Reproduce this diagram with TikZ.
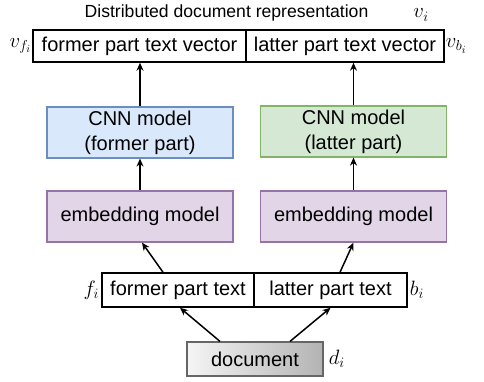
\documentclass[tikz,border=0pt]{standalone}
\usepackage{fontspec}
\setmainfont{Liberation Sans}
\usetikzlibrary{arrows.meta,calc}
\definecolor{blueF}{HTML}{DAE8FC}\definecolor{blueD}{HTML}{6C8EBF}
\definecolor{greenF}{HTML}{D5E8D4}\definecolor{greenD}{HTML}{82B366}
\definecolor{purpF}{HTML}{E1D5E7}\definecolor{purpD}{HTML}{9673A6}
\definecolor{docL}{HTML}{F5F5F5}\definecolor{docR}{HTML}{B3B3B3}\definecolor{docD}{HTML}{666666}
\begin{document}
\begin{tikzpicture}[x=1pt,y=-1pt,
  every node/.style={font=\fontsize{20}{25}\selectfont, inner sep=0pt},
  plain/.style={draw=black, line width=1.5pt, fill=white, minimum height=32pt},
  model/.style={line width=1.2pt, minimum width=186pt, minimum height=51pt, align=center},
  arr/.style={-{Stealth[length=8pt,width=7pt]}, line width=1.5pt},
  lab/.style={font=\fontsize{21}{24}\selectfont}]
\useasboundingbox (0,0) rectangle (484,381);
% top vectors
\node[plain, minimum width=213pt] (fvec) at (139.5,46) {former part text vector};
\node[plain, minimum width=198pt] (lvec) at (345,46) {latter part text vector};
\node[lab, anchor=east] (vf) at ([xshift=-1pt]fvec.west) {$v_{f_i}$};
\node[lab, anchor=west] (vb) at ([xshift=1pt]lvec.east) {$v_{b_i}$};
\node[font=\fontsize{17.6}{20}\selectfont] (title) at (226.5,13) {Distributed document representation};
\node[lab] (vi) at (421,15) {$v_i$};
% CNN
\node[model, fill=blueF, draw=blueD] (cnnL) at (140,132.5) {CNN model\\(former part)};
\node[model, fill=greenF, draw=greenD] (cnnR) at (353.5,131.5) {CNN model\\(latter part)};
% embedding
\node[model, fill=purpF, draw=purpD] (embL) at (140,216.5) {embedding model};
\node[model, fill=purpF, draw=purpD] (embR) at (353.5,216.5) {embedding model};
% text parts
\node[plain, minimum width=152pt, minimum height=34pt] (ftext) at (178,290) {former part text};
\node[plain, minimum width=153pt, minimum height=34pt] (ltext) at (330.5,290) {latter part text};
\node[lab, anchor=east] (fi) at ([xshift=-2pt]ftext.west) {$f_i$};
\node[lab, anchor=west] (bi) at ([xshift=2pt]ltext.east) {$b_i$};
% document
\node[draw=docD, line width=1.2pt, left color=docL, right color=docR, minimum width=136pt, minimum height=34pt] (doc) at (255,359) {document};
\node[lab, anchor=west] (di) at ([xshift=5pt]doc.east) {$d_i$};
% arrows
\draw[arr] ([xshift=-35pt]doc.north) -- ([xshift=2pt]ftext.south);
\draw[arr] ([xshift=35pt]doc.north) -- ([xshift=0pt]ltext.south);
\draw[arr] ([xshift=-15pt]ftext.north) -- ([xshift=2pt]embL.south);
\draw[arr] ([xshift=9.5pt]ltext.north) -- (embR.south);
\draw[arr] (embL.north) -- (cnnL.south);
\draw[arr] (embR.north) -- (cnnR.south);
\draw[arr] (cnnL.north) -- (cnnL.north |- fvec.south);
\draw[arr] (cnnR.north) -- (cnnR.north |- lvec.south);
\end{tikzpicture}
\end{document}
